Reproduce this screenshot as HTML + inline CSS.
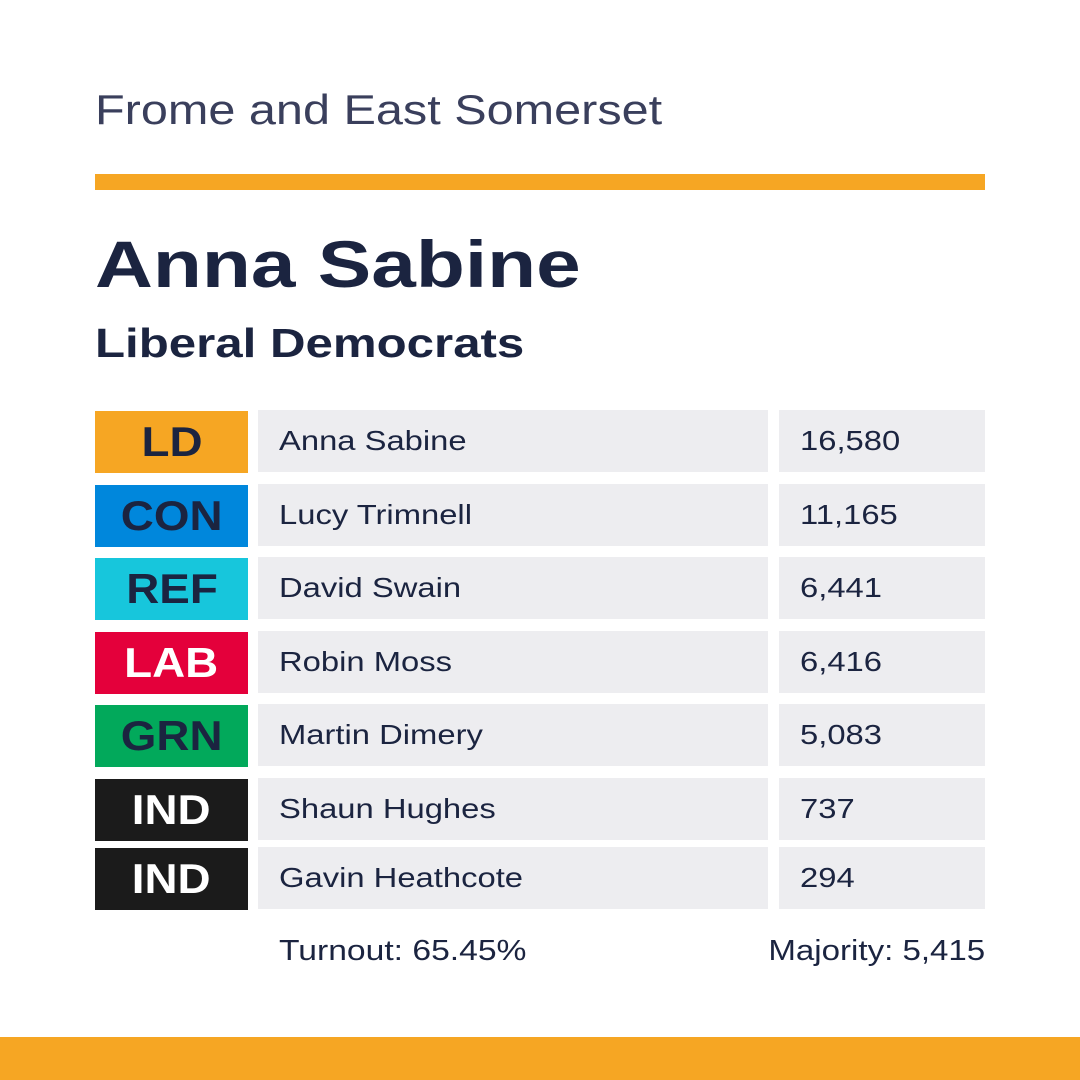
<!DOCTYPE html>
<html><head><meta charset="utf-8">
<style>
body{margin:0;width:1080px;height:1080px;background:#fff;position:relative;overflow:hidden;font-family:"Liberation Sans",sans-serif;color:#1b2440}
.abs{position:absolute;transform-origin:left center}
.tag{position:absolute;left:95px;width:153px;height:62px;font-weight:bold;font-size:42px;display:flex;align-items:center;justify-content:center}
.tag span{display:inline-block;transform:scaleX(1.09)}
.cell{position:absolute;height:62px;background:#ededf0;font-size:28px;display:flex;align-items:center;padding-left:21px;box-sizing:border-box}
.cell span{display:inline-block;transform:scaleX(1.17);transform-origin:left center}
</style></head><body>
<div class="abs" style="left:95px;top:86px;font-size:42px;color:#3a3f5c;transform:scaleX(1.157)">Frome and East Somerset</div>
<div class="abs" style="left:95px;top:174px;width:890px;height:16px;background:#f6a623"></div>
<div class="abs" style="left:95px;top:226px;font-size:66px;font-weight:bold;color:#1b2440;transform:scaleX(1.215)">Anna Sabine</div>
<div class="abs" style="left:95px;top:320px;font-size:41px;font-weight:bold;color:#1b2440;transform:scaleX(1.2)">Liberal Democrats</div>
<div id="rows"></div>
<div class="abs" style="left:279px;top:935px;font-size:29px;transform:scaleX(1.16)">Turnout: 65.45%</div>
<div class="abs" style="right:95px;top:935px;font-size:29px;transform:scaleX(1.14);transform-origin:right center">Majority: 5,415</div>
<div class="abs" style="left:0;top:1037px;width:1080px;height:43px;background:#f6a623"></div>
<script>
const parties=["LD","CON","REF","LAB","GRN","IND","IND"];
const candidates=["Anna Sabine","Lucy Trimnell","David Swain","Robin Moss","Martin Dimery","Shaun Hughes","Gavin Heathcote"];
const votes=["16,580","11,165","6,441","6,416","5,083","737","294"];
const colors={LD:"#f6a623",CON:"#0087dc",REF:"#17c6dc",LAB:"#e4003b",GRN:"#02a95b",IND:"#1b1b1b"};
const textColors={LD:"#1b2440",CON:"#1b2440",REF:"#1b2440",LAB:"#fff",GRN:"#1b2440",IND:"#fff"};
const tops=[410,484,557,631,704,778,847];
const root=document.getElementById('rows');
parties.forEach((p,i)=>{
  const t=tops[i];
  const tag=document.createElement('div');
  tag.className='tag';
  
  
  tag.style.top=(t+1)+'px';tag.style.background=colors[p];tag.style.color=textColors[p];
  tag.innerHTML='<span>'+p+'</span>';root.appendChild(tag);
  const n=document.createElement('div');
  n.className='cell';
  
  
  n.style.top=t+'px';n.style.left='258px';n.style.width='510px';
  n.innerHTML='<span>'+candidates[i]+'</span>';root.appendChild(n);
  const v=document.createElement('div');
  v.className='cell';
  
  
  v.style.top=t+'px';v.style.left='779px';v.style.width='206px';
  v.innerHTML='<span>'+votes[i]+'</span>';root.appendChild(v);
});
</script>
</body></html>
